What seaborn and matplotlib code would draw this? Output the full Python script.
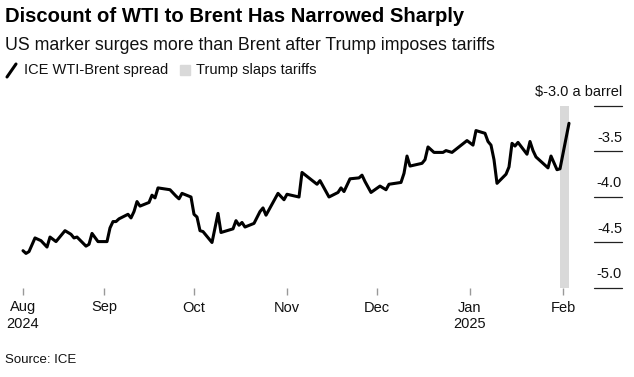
import seaborn as sns
import pandas as pd
import matplotlib.pyplot as plt
from matplotlib.lines import Line2D
from matplotlib.patches import Rectangle

# ICE WTI-Brent spread, $ a barrel
dates = ["2024-08-05", "2024-08-06", "2024-08-07", "2024-08-09", "2024-08-11", "2024-08-13",
         "2024-08-14", "2024-08-16", "2024-08-19", "2024-08-21", "2024-08-22", "2024-08-23",
         "2024-08-26", "2024-08-27", "2024-08-28", "2024-08-30", "2024-09-02", "2024-09-03",
         "2024-09-04", "2024-09-05", "2024-09-06", "2024-09-09", "2024-09-10", "2024-09-11",
         "2024-09-12", "2024-09-13", "2024-09-16", "2024-09-17", "2024-09-18", "2024-09-19",
         "2024-09-23", "2024-09-25", "2024-09-26", "2024-09-27", "2024-09-30", "2024-10-01",
         "2024-10-02", "2024-10-03", "2024-10-04", "2024-10-07", "2024-10-09", "2024-10-10",
         "2024-10-14", "2024-10-15", "2024-10-16", "2024-10-17", "2024-10-18", "2024-10-21",
         "2024-10-23", "2024-10-24", "2024-10-25", "2024-10-29", "2024-10-31", "2024-11-01",
         "2024-11-05", "2024-11-06", "2024-11-11", "2024-11-12", "2024-11-15", "2024-11-18",
         "2024-11-19", "2024-11-20", "2024-11-22", "2024-11-25", "2024-11-26", "2024-11-27",
         "2024-11-29", "2024-12-02", "2024-12-04", "2024-12-05", "2024-12-09", "2024-12-10",
         "2024-12-11", "2024-12-12", "2024-12-16", "2024-12-17", "2024-12-18", "2024-12-20",
         "2024-12-23", "2024-12-24", "2024-12-26", "2024-12-31", "2025-01-02", "2025-01-03",
         "2025-01-06", "2025-01-07", "2025-01-08", "2025-01-09", "2025-01-10", "2025-01-13",
         "2025-01-14", "2025-01-15", "2025-01-16", "2025-01-17", "2025-01-20", "2025-01-21",
         "2025-01-22", "2025-01-23", "2025-01-27", "2025-01-28", "2025-01-30", "2025-01-31",
         "2025-02-03"]
spread = [-4.59, -4.62, -4.60, -4.45, -4.48, -4.55,
          -4.44, -4.49, -4.37, -4.41, -4.45, -4.44,
          -4.54, -4.52, -4.40, -4.49, -4.49, -4.34,
          -4.27, -4.27, -4.24, -4.19, -4.23, -4.16,
          -4.05, -4.10, -4.06, -3.98, -4.01, -3.90,
          -3.92, -3.99, -4.02, -3.96, -4.00, -4.19,
          -4.22, -4.37, -4.38, -4.50, -4.18, -4.39,
          -4.35, -4.26, -4.31, -4.28, -4.33, -4.29,
          -4.16, -4.12, -4.20, -3.96, -4.03, -3.97,
          -4.00, -3.73, -3.86, -3.82, -4.00, -3.95,
          -3.90, -3.94, -3.80, -3.79, -3.76, -3.83,
          -3.95, -3.88, -3.92, -3.86, -3.84, -3.74,
          -3.55, -3.66, -3.63, -3.59, -3.45, -3.51,
          -3.51, -3.49, -3.51, -3.38, -3.43, -3.27,
          -3.30, -3.39, -3.43, -3.59, -3.85, -3.75,
          -3.67, -3.41, -3.44, -3.40, -3.53, -3.39,
          -3.49, -3.56, -3.68, -3.55, -3.70, -3.69,
          -3.19]

tariff_start = "2025-01-31"
tariff_end = "2025-02-03"

month_ticks = ["2024-08-05", "2024-09-01", "2024-10-01", "2024-11-01",
               "2024-12-01", "2025-01-01", "2025-02-01"]
month_labels = ["Aug\n2024", "Sep", "Oct", "Nov", "Dec", "Jan\n2025", "Feb"]
y_ticks = [-3.0, -3.5, -4.0, -4.5, -5.0]
y_labels = ["$-3.0 a barrel", "-3.5", "-4.0", "-4.5", "-5.0"]

df = pd.DataFrame({"date": pd.to_datetime(dates), "spread": spread})

sns.set_style("white")
plt.rcParams["font.family"] = ["Liberation Sans", "DejaVu Sans"]

fig = plt.figure(figsize=(6.34, 3.77), dpi=100)
ax = fig.add_axes([15 / 634, 1 - 288 / 377, 607 / 634, 188 / 377])

ax.fill_between(pd.to_datetime([tariff_start, tariff_end]), -5.0, -3.0,
                color="#d9d9d9", linewidth=0, zorder=1)
sns.lineplot(data=df, x="date", y="spread", color="black", linewidth=2.2, ax=ax, zorder=3)

base = pd.Timestamp("2024-08-01")
ax.set_xlim(base + pd.Timedelta(days=4 / 3), base + pd.Timedelta(days=611 / 3))
ax.set_ylim(-5.0, -3.0 + 6 / 91)

# short gridlines at the right with labels above them
for v, lab in zip(y_ticks, y_labels):
    ax.plot([0.954, 1.0], [v, v], color="#222222", linewidth=0.9,
            transform=ax.get_yaxis_transform(), clip_on=False, zorder=2)
    ax.annotate(lab, xy=(1.0, v), xycoords=ax.get_yaxis_transform(),
                xytext=(0, 5), textcoords="offset points",
                ha="right", va="bottom", fontsize=10.5, color="#111111")

ax.set_yticks([])
ax.set_xticks(pd.to_datetime(month_ticks))
ax.set_xticklabels(month_labels, fontsize=10.5, color="#111111", linespacing=1.25)
ax.tick_params(axis="x", direction="out", length=5, width=1, color="#999999", pad=4, bottom=True)
for s in ax.spines.values():
    s.set_visible(False)
ax.set_xlabel("")
ax.set_ylabel("")

fig.text(5 / 634, 1 - 17 / 377, "Discount of WTI to Brent Has Narrowed Sharply",
         fontsize=14.6, fontweight="bold", va="center", ha="left", color="black")
fig.text(5 / 634, 1 - 45 / 377, "US marker surges more than Brent after Trump imposes tariffs",
         fontsize=12.8, va="center", ha="left", color="#111111")

# legend
fig.add_artist(Line2D([7 / 634, 16 / 634], [1 - 77 / 377, 1 - 64 / 377],
                      color="black", linewidth=2.2, transform=fig.transFigure))
fig.text(24 / 634, 1 - 70 / 377, "ICE WTI-Brent spread", fontsize=10.5,
         va="center", ha="left", color="#111111")
fig.add_artist(Rectangle((180 / 634, 1 - 75 / 377), 10 / 634, 10 / 377,
                         color="#d9d9d9", transform=fig.transFigure))
fig.text(196 / 634, 1 - 70 / 377, "Trump slaps tariffs", fontsize=10.5,
         va="center", ha="left", color="#111111")

fig.text(5 / 634, 1 - 360 / 377, "Source: ICE", fontsize=9.5,
         va="center", ha="left", color="#111111")

fig.savefig("out.png", dpi=100)
